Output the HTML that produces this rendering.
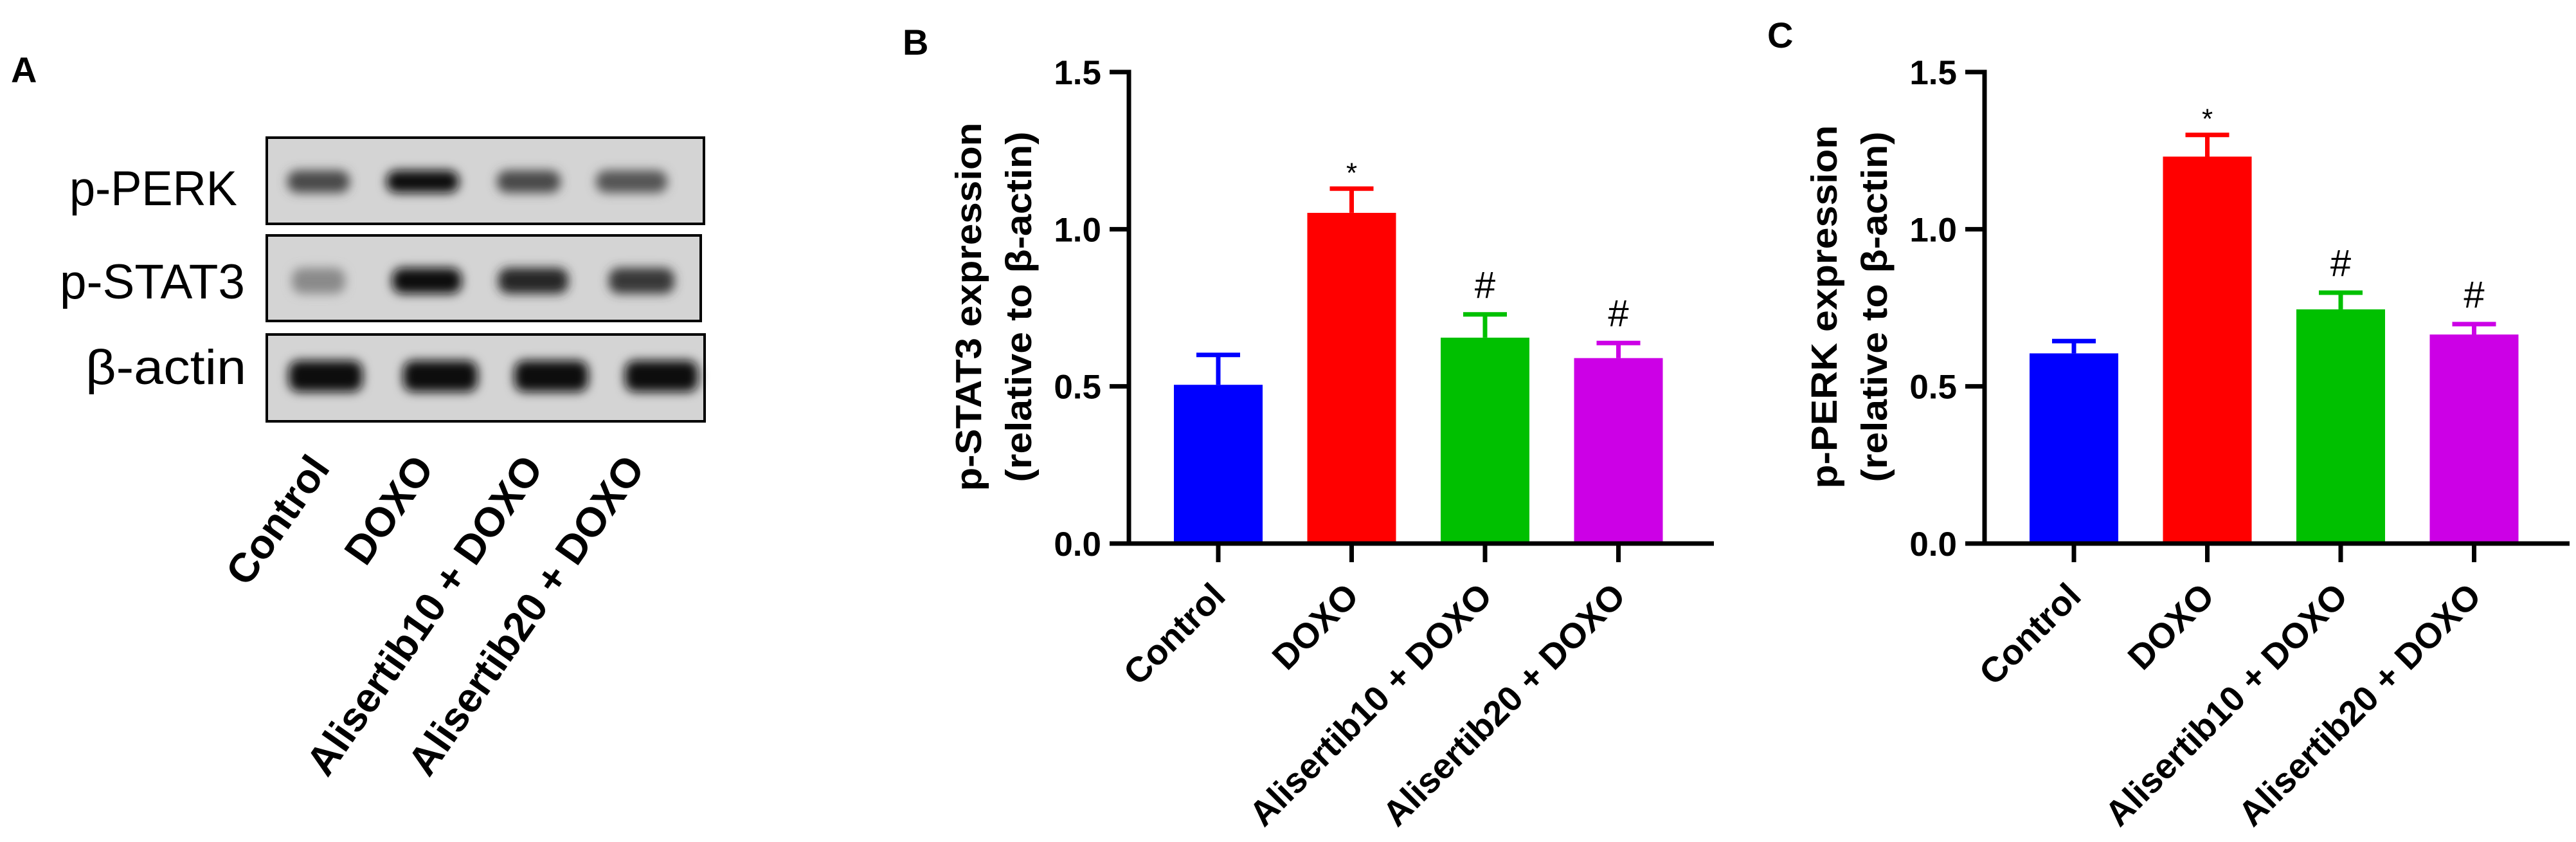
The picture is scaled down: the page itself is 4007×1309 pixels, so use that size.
<!DOCTYPE html>
<html><head><meta charset="utf-8">
<style>
html,body{margin:0;padding:0;background:#fff;}
svg{display:block;}
text{font-family:"Liberation Sans",Arial,sans-serif;}
</style></head>
<body>
<svg id="fig" xmlns="http://www.w3.org/2000/svg" width="4007" height="1309" viewBox="0 0 4007 1309">
<defs>
<filter id="blur" x="-30%" y="-80%" width="160%" height="260%"><feGaussianBlur stdDeviation="8"/></filter>
</defs>
<g id="panelA">
<text x="17" y="128" font-size="56" font-weight="bold">A</text>
</g>
<g id="panelB"></g>
<g id="panelC"></g>
</svg>
<script>
// ---- chart data ----
const categories = ["Control","DOXO","Alisertib10 + DOXO","Alisertib20 + DOXO"];
const stat3Values = [0.505, 1.052, 0.655, 0.59];
const stat3Errors = [0.095, 0.077, 0.074, 0.048];
const perkValues = [0.605, 1.231, 0.745, 0.665];
const perkErrors = [0.039, 0.069, 0.053, 0.033];
const stat3Marks = ["", "*", "#", "#"];
const perkMarks = ["", "*", "#", "#"];
const yTicks = [0, 0.5, 1.0, 1.5];
const yTickLabels = ["0.0","0.5","1.0","1.5"];
const barColors = ["#0000ff","#ff0000","#00c000","#cc00e6"];
// blot band intensities (0 = white, 1 = black)
const blotRows = ["p-PERK","p-STAT3","β-actin"];
const perkBands = [0.72, 1.0, 0.72, 0.66];
const stat3Bands = [0.4, 1.0, 0.88, 0.8];
const actinBands = [1.0, 1.0, 1.0, 1.0];

const NS = "http://www.w3.org/2000/svg";
function mk(tag, attrs, parent){
  const e = document.createElementNS(NS, tag);
  for (const k in attrs) e.setAttribute(k, attrs[k]);
  parent.appendChild(e);
  return e;
}

// ---- Panel A: blot ----
const gA = document.getElementById('panelA');
const boxes = [
  {x:415,y:214,w:680,h:134,ty:319, bands:perkBands, lanes:[[445,546],[599,716],[771,874],[925,1040]], by:[0.38,0.64]},
  {x:415,y:366,w:675,h:133,ty:464, bands:stat3Bands, lanes:[[452,539],[608,720],[773,886],[945,1051]], by:[0.38,0.68]},
  {x:415,y:520,w:681,h:135,ty:597, bands:actinBands, lanes:[[447,566],[625,745],[798,917],[970,1088]], by:[0.3,0.66]}
];
const labelX = [108,93,133], labelW = [261,288,250];
boxes.forEach((b,i)=>{
  const g = mk('g',{},gA);
  
  
  const bg = mk('rect',{x:b.x,y:b.y,width:b.w,height:b.h,fill:'#d4d4d4'},g);
  
  
  b.bands.forEach((v,j)=>{
    const l = b.lanes[j];
    const c = Math.round(205*(1-v)+15);
    const y0 = b.y + b.h*b.by[0], y1 = b.y + b.h*b.by[1];
    const band = mk('rect',{x:l[0]+2,y:y0,width:l[1]-l[0]-4,height:y1-y0,rx:16,fill:`rgb(${c},${c},${c})`,filter:'url(#blur)'},g);
    
    
  });
  const fr = mk('rect',{x:b.x,y:b.y,width:b.w,height:b.h,fill:'none',stroke:'#000','stroke-width':4},g);
  
  
  const t = mk('text',{x:labelX[i],y:b.ty,'font-size':76,textLength:labelW[i],lengthAdjust:'spacingAndGlyphs'},gA);
  t.textContent = blotRows[i];
  
  
});
const laneX = [493,655,825,983];
categories.forEach((c,i)=>{
  const ax = laneX[i]+22, ay = 728;
  const t = mk('text',{x:ax,y:ay,'font-size':64,'font-weight':'bold','text-anchor':'end',transform:`rotate(-55 ${ax} ${ay})`},gA);
  t.textContent = c;
  
  
});

// ---- Bar charts ----
function drawChart(gid, letter, lx, ly, axisX, values, errors, marks, l1, l2, tl1, tl2){
  const g = document.getElementById(gid);
  const y0 = 845, yTop = 112, yMax = 1.5;
  const yS = v => y0 - (v/yMax)*(y0-yTop);
  const step = 207.5, first = axisX + 139, bw = 138;
  const xC = i => first + i*step;
  const axisEnd = axisX + 910;
  const pl = mk('text',{x:lx,y:ly,'font-size':56,'font-weight':'bold'},g);
  pl.textContent = letter;
  
  
  values.forEach((v,i)=>{
    const r = mk('rect',{x:xC(i)-bw/2,y:yS(v),width:bw,height:y0-yS(v),fill:barColors[i]},g);
    
    
    const top = yS(v+errors[i]);
    const e1 = mk('line',{x1:xC(i),x2:xC(i),y1:yS(v),y2:top,stroke:barColors[i],'stroke-width':7},g);
    
    
    const e2 = mk('line',{x1:xC(i)-34,x2:xC(i)+34,y1:top,y2:top,stroke:barColors[i],'stroke-width':7},g);
    
    
    if (marks[i]){
      const isStar = marks[i]==='*';
      const m = mk('text',{x:xC(i),y:isStar?top-10:top-26,'font-size':isStar?44:58,'text-anchor':'middle'},g);
      m.textContent = marks[i];
      
      
    }
    const tk = mk('line',{x1:xC(i),x2:xC(i),y1:y0,y2:874,stroke:'#000','stroke-width':7},g);
    
    
    const tx = xC(i)+14, ty = 930;
    const lab = mk('text',{x:tx,y:ty,'font-size':55,'font-weight':'bold','text-anchor':'end',transform:`rotate(-45 ${tx} ${ty})`},g);
    lab.textContent = categories[i];
    
    
  });
  const ya = mk('line',{x1:axisX,x2:axisX,y1:yTop-3.5,y2:y0+3.5,stroke:'#000','stroke-width':7},g);
  
  
  const xa = mk('line',{x1:axisX-30,x2:axisEnd,y1:y0,y2:y0,stroke:'#000','stroke-width':7},g);
  
  
  yTicks.forEach((v,i)=>{
    const t = mk('line',{x1:axisX-30,x2:axisX,y1:yS(v),y2:yS(v),stroke:'#000','stroke-width':7},g);
    
    
    const l = mk('text',{x:axisX-43,y:yS(v)+19,'font-size':53,'font-weight':'bold','text-anchor':'end'},g);
    l.textContent = yTickLabels[i];
    
    
  });
  const cy = 477;
  const a = mk('text',{x:axisX-230,y:cy,'font-size':57,'font-weight':'bold','text-anchor':'middle',transform:`rotate(-90 ${axisX-230} ${cy})`,textLength:tl1,lengthAdjust:'spacingAndGlyphs'},g);
  a.textContent = l1;
  
  
  const b = mk('text',{x:axisX-152,y:cy,'font-size':57,'font-weight':'bold','text-anchor':'middle',transform:`rotate(-90 ${axisX-152} ${cy})`,textLength:tl2,lengthAdjust:'spacingAndGlyphs'},g);
  b.textContent = l2;
  
  
}
drawChart('panelB','B',1404,85,1756,stat3Values,stat3Errors,stat3Marks,'p-STAT3 expression','(relative to β-actin)',573,545);
drawChart('panelC','C',2749,74,3087,perkValues,perkErrors,perkMarks,'p-PERK expression','(relative to β-actin)',565,545);
</script>
</body></html>
